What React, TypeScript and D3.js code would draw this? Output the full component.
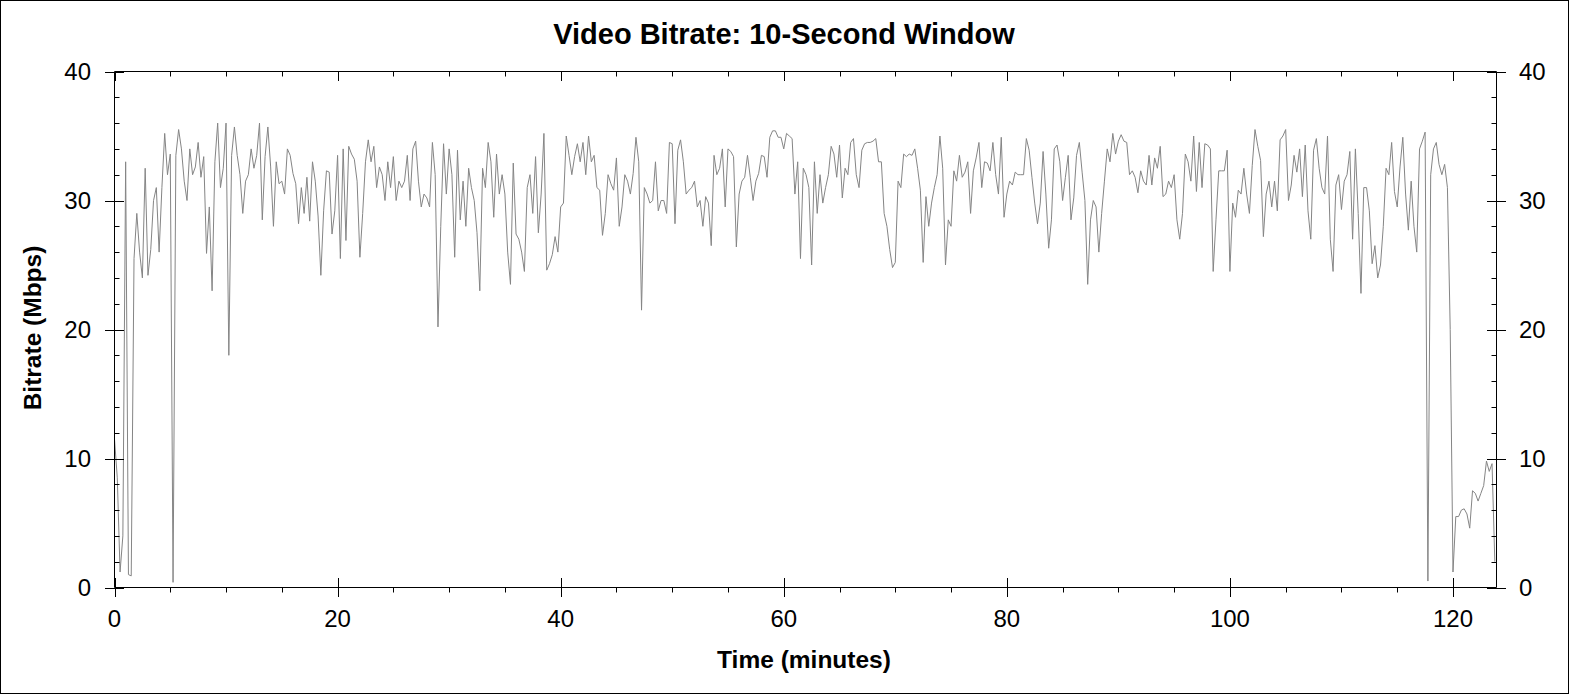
import React, { useEffect, useRef } from 'react';
import * as d3 from 'd3';

// sample spacing of the bitrate series, in minutes
const STEP_MIN = 0.25;

// Mbps per 15-second step
const bitrateMbps: number[] = [
  11.5, 8.5, 1.2, 4.0, 33.0, 1.0, 0.9, 25.5, 29.0, 26.0, 24.0, 32.5, 24.2, 26.2, 30.0, 31.0, 26.0, 31.0, 35.2, 32.0,
  33.6, 0.4, 33.5, 35.5, 34.0, 31.5, 30.0, 34.0, 32.0, 32.6, 34.5, 31.8, 33.4, 25.9, 29.5, 23.0, 33.0, 36.0, 31.0, 32.5,
  36.0, 18.0, 33.5, 35.7, 33.5, 32.0, 29.0, 31.5, 32.0, 34.0, 32.5, 33.5, 36.0, 28.5, 33.4, 35.7, 32.6, 28.0, 33.0, 31.3,
  31.5, 30.5, 34.0, 33.5, 32.1, 31.3, 28.2, 31.0, 29.0, 31.8, 28.4, 33.0, 31.5, 28.8, 24.2, 29.2, 32.3, 32.2, 27.4, 29.2,
  33.5, 25.5, 34.0, 26.9, 34.2, 33.6, 33.2, 31.5, 25.6, 29.0, 33.0, 34.7, 33.0, 34.2, 31.0, 32.6, 32.0, 30.0, 33.0, 31.0,
  33.4, 30.0, 31.5, 31.0, 31.5, 33.5, 30.0, 34.0, 34.6, 31.5, 29.5, 30.5, 30.2, 29.5, 34.5, 32.0, 20.2, 28.0, 34.4, 30.5,
  34.0, 32.0, 25.6, 33.9, 28.5, 31.5, 28.0, 32.5, 31.0, 30.0, 27.5, 23.0, 32.5, 31.0, 34.5, 33.0, 28.7, 33.6, 30.5, 32.0,
  30.5, 26.0, 23.5, 32.9, 27.4, 27.0, 26.0, 24.5, 31.0, 32.0, 29.0, 33.4, 27.5, 30.5, 35.2, 24.6, 25.1, 25.8, 27.2, 26.0,
  29.5, 29.8, 35.0, 33.5, 32.0, 33.4, 34.4, 33.0, 34.5, 32.0, 35.0, 33.0, 33.5, 31.0, 30.8, 27.3, 29.0, 32.0, 31.3, 30.8,
  33.3, 28.0, 29.5, 32.0, 31.5, 30.5, 32.1, 34.9, 33.0, 21.5, 31.0, 30.5, 29.8, 30.0, 33.0, 29.2, 30.0, 30.0, 29.0, 34.5,
  34.4, 28.2, 33.9, 34.7, 33.0, 30.5, 30.8, 31.0, 31.5, 29.5, 30.0, 28.0, 30.3, 29.8, 26.5, 33.5, 32.0, 32.5, 34.0, 29.5,
  34.0, 33.8, 33.4, 26.4, 30.5, 31.5, 31.8, 33.5, 31.8, 30.0, 31.5, 32.1, 33.5, 33.4, 31.8, 34.9, 35.4, 35.4, 34.9, 34.9,
  34.0, 35.2, 35.0, 34.8, 30.5, 33.0, 25.5, 32.5, 32.0, 31.0, 25.0, 33.0, 29.0, 32.0, 29.8, 31.0, 32.0, 34.2, 33.6, 31.8,
  34.3, 30.2, 32.5, 32.0, 34.5, 34.8, 32.0, 31.0, 33.9, 34.4, 34.5, 34.5, 34.6, 34.8, 33.0, 33.0, 29.0, 28.0, 26.2, 24.8,
  25.2, 31.5, 31.0, 33.6, 33.4, 33.6, 33.5, 34.0, 32.5, 30.8, 25.2, 30.3, 28.0, 29.8, 31.0, 32.0, 35.0, 32.5, 25.0, 28.5,
  28.0, 32.3, 31.5, 33.5, 31.8, 32.2, 33.0, 29.0, 32.3, 33.3, 34.5, 31.0, 33.0, 32.9, 32.3, 34.5, 32.0, 30.5, 34.9, 28.7,
  30.5, 31.5, 31.2, 32.2, 32.0, 32.0, 32.0, 34.8, 33.9, 31.8, 29.8, 28.2, 29.8, 33.8, 30.5, 26.3, 28.5, 34.0, 34.3, 33.0,
  30.0, 31.8, 33.5, 28.5, 30.2, 33.5, 34.5, 32.2, 30.0, 23.5, 28.5, 30.0, 29.5, 26.0, 29.0, 31.5, 34.0, 33.0, 35.2, 33.6,
  34.6, 35.1, 34.6, 34.5, 32.0, 32.3, 31.8, 30.6, 32.3, 31.5, 31.2, 33.5, 31.2, 33.3, 32.5, 34.2, 30.3, 30.5, 31.5, 31.0,
  32.0, 28.5, 27.0, 29.0, 33.6, 33.0, 31.5, 35.0, 30.7, 34.5, 31.0, 34.4, 34.3, 34.0, 24.5, 28.5, 32.3, 32.3, 32.3, 33.9,
  24.5, 29.8, 28.7, 30.8, 30.5, 32.5, 30.5, 29.0, 32.7, 35.5, 34.2, 33.1, 27.2, 30.5, 31.5, 29.5, 31.5, 29.2, 34.7, 35.0,
  35.5, 30.0, 31.2, 33.5, 32.2, 34.0, 30.3, 34.3, 29.2, 27.0, 33.9, 34.8, 32.5, 31.0, 30.5, 35.0, 27.0, 24.5, 31.2, 32.0,
  29.3, 31.5, 32.0, 33.8, 27.0, 34.0, 29.0, 22.8, 31.0, 31.0, 29.2, 25.1, 26.5, 24.0, 25.0, 28.0, 32.5, 32.0, 34.5, 30.7,
  29.5, 32.6, 34.9, 30.5, 27.7, 31.5, 28.0, 26.0, 34.0, 34.6, 35.3, 0.5, 32.0, 34.0, 34.5, 32.8, 32.0, 32.8, 31.0, 20.0,
  1.2, 5.5, 5.5, 6.0, 6.1, 5.7, 4.6, 7.5, 7.3, 6.7, 7.3, 7.9, 9.8, 9.0, 9.6, 2.0,
];

const xMajorTicks = [0, 20, 40, 60, 80, 100, 120];
const yMajorTicks = [0, 10, 20, 30, 40];
const X_MAX = 123.9;
const Y_MAX = 40;

const WIDTH = 1570;
const HEIGHT = 695;
const FONT = '"Liberation Sans", Arial, sans-serif';

const App: React.FC = () => {
  const svgRef = useRef<SVGSVGElement>(null);

  useEffect(() => {
    document.body.style.margin = '0';
    if (!svgRef.current) return;

    const svg = d3.select(svgRef.current);
    svg.selectAll('*').remove();

    const left = 114.5;
    const right = 1496.5;
    const top = 71.5;
    const bottom = 587.5;

    const x = d3.scaleLinear().domain([0, X_MAX]).range([left, right]);
    const y = d3.scaleLinear().domain([0, Y_MAX]).range([bottom, top]);

    // outer frame
    svg.append('rect')
      .attr('x', 0.5).attr('y', 0.5)
      .attr('width', WIDTH - 2).attr('height', HEIGHT - 2)
      .attr('fill', '#fff').attr('stroke', '#000');

    // data line
    const line = d3.line<number>()
      .x((_, i) => x(i * STEP_MIN))
      .y((d) => y(d));

    svg.append('path')
      .datum(bitrateMbps)
      .attr('d', line)
      .attr('fill', 'none')
      .attr('stroke', '#858585')
      .attr('stroke-width', 1);

    const axes = svg.append('g').attr('stroke', '#000').attr('stroke-width', 1);

    // plot box
    axes.append('line').attr('x1', left).attr('x2', left).attr('y1', top).attr('y2', bottom);
    axes.append('line').attr('x1', right).attr('x2', right).attr('y1', top).attr('y2', bottom);
    axes.append('line').attr('x1', left).attr('x2', right).attr('y1', top).attr('y2', top);
    axes.append('line').attr('x1', left).attr('x2', right).attr('y1', bottom).attr('y2', bottom);

    const yMinor = d3.range(2, Y_MAX, 2).filter((v) => v % 10 !== 0);
    const xMinor = d3.range(5, X_MAX, 5).filter((v) => v % 20 !== 0);

    const yPx = (v: number) => Math.round(y(v)) + 0.5;
    const xPx = (v: number) => Math.round(x(v)) + 0.5;

    // left + right ticks
    yMajorTicks.forEach((v) => {
      axes.append('line').attr('x1', 105).attr('x2', 124).attr('y1', yPx(v)).attr('y2', yPx(v));
      axes.append('line').attr('x1', 1487).attr('x2', 1506).attr('y1', yPx(v)).attr('y2', yPx(v));
    });
    yMinor.forEach((v) => {
      axes.append('line').attr('x1', left).attr('x2', left + 5).attr('y1', yPx(v)).attr('y2', yPx(v));
      axes.append('line').attr('x1', right - 5).attr('x2', right).attr('y1', yPx(v)).attr('y2', yPx(v));
    });

    // bottom + top ticks
    xMajorTicks.forEach((v) => {
      axes.append('line').attr('x1', xPx(v)).attr('x2', xPx(v)).attr('y1', 578).attr('y2', 597);
      axes.append('line').attr('x1', xPx(v)).attr('x2', xPx(v)).attr('y1', top).attr('y2', top + 9.5);
    });
    xMinor.forEach((v) => {
      axes.append('line').attr('x1', xPx(v)).attr('x2', xPx(v)).attr('y1', bottom).attr('y2', bottom + 5);
      axes.append('line').attr('x1', xPx(v)).attr('x2', xPx(v)).attr('y1', top).attr('y2', top + 5);
    });

    const text = svg.append('g').attr('font-family', FONT).attr('fill', '#000');

    yMajorTicks.forEach((v) => {
      text.append('text')
        .attr('x', 91).attr('y', y(v) + 8.5)
        .attr('text-anchor', 'end').attr('font-size', 24)
        .text(String(v));
      text.append('text')
        .attr('x', 1519).attr('y', y(v) + 8.5)
        .attr('text-anchor', 'start').attr('font-size', 24)
        .text(String(v));
    });
    xMajorTicks.forEach((v) => {
      text.append('text')
        .attr('x', x(v)).attr('y', 627)
        .attr('text-anchor', 'middle').attr('font-size', 24)
        .text(String(v));
    });

    text.append('text')
      .attr('x', 784).attr('y', 43.5)
      .attr('text-anchor', 'middle').attr('font-size', 29).attr('font-weight', 'bold')
      .text('Video Bitrate: 10-Second Window');

    text.append('text')
      .attr('x', 804).attr('y', 668)
      .attr('text-anchor', 'middle').attr('font-size', 24.5).attr('font-weight', 'bold')
      .text('Time (minutes)');

    text.append('text')
      .attr('transform', 'translate(41,328) rotate(-90)')
      .attr('text-anchor', 'middle').attr('font-size', 24.5).attr('font-weight', 'bold')
      .text('Bitrate (Mbps)');
  }, []);

  return (
    <svg
      ref={svgRef}
      width={WIDTH}
      height={HEIGHT}
      style={{ display: 'block' }}
      role="img"
      aria-label="Video Bitrate: 10-Second Window"
    />
  );
};

export default App;
